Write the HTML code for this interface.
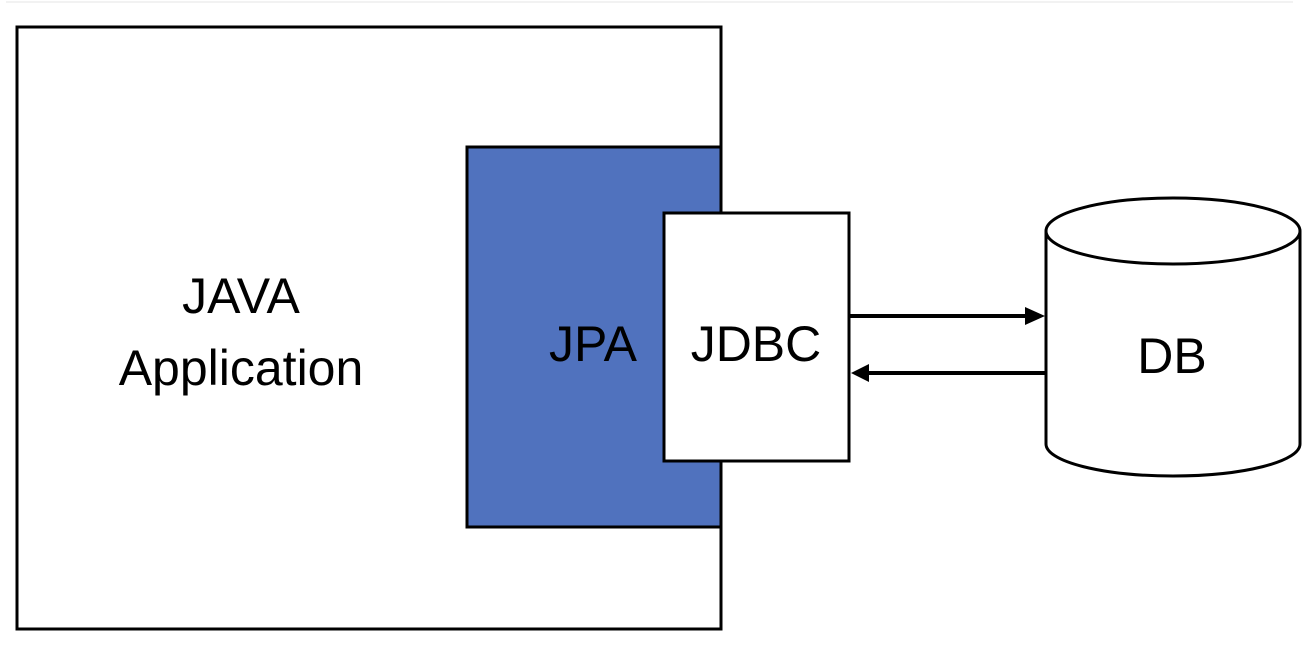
<!DOCTYPE html>
<html><head><style>html,body{margin:0;padding:0;background:#fff;}</style></head>
<body>
<svg width="1316" height="656" xmlns="http://www.w3.org/2000/svg" style="display:block">
<rect x="6" y="1" width="1287" height="2" fill="#f2f2f2"/>
<rect x="17" y="27" width="704" height="602" fill="#fff" stroke="#000" stroke-width="3"/>
<rect x="467" y="147" width="254" height="380" fill="#5072be" stroke="#000" stroke-width="3"/>
<rect x="664" y="213" width="185" height="248" fill="#fff" stroke="#000" stroke-width="3"/>
<path d="M1046 231 L1046 444 A127 32 0 0 0 1300 444 L1300 231" fill="#fff" stroke="#000" stroke-width="3"/>
<ellipse cx="1173" cy="231" rx="127" ry="33" fill="#fff" stroke="#000" stroke-width="3"/>
<g font-family="'Liberation Sans',sans-serif" font-size="50" fill="#000" text-anchor="middle">
<text x="241" y="313">JAVA</text>
<text x="241" y="385">Application</text>
<text x="593" y="361">JPA</text>
<text x="756" y="361">JDBC</text>
<text x="1172" y="373">DB</text>
</g>
<line x1="850" y1="316" x2="1030" y2="316" stroke="#000" stroke-width="4"/>
<polygon points="1045,316 1025,307 1025,325" fill="#000"/>
<line x1="865" y1="373" x2="1046" y2="373" stroke="#000" stroke-width="4"/>
<polygon points="851,373 869,364 869,382" fill="#000"/>
</svg>
</body></html>
